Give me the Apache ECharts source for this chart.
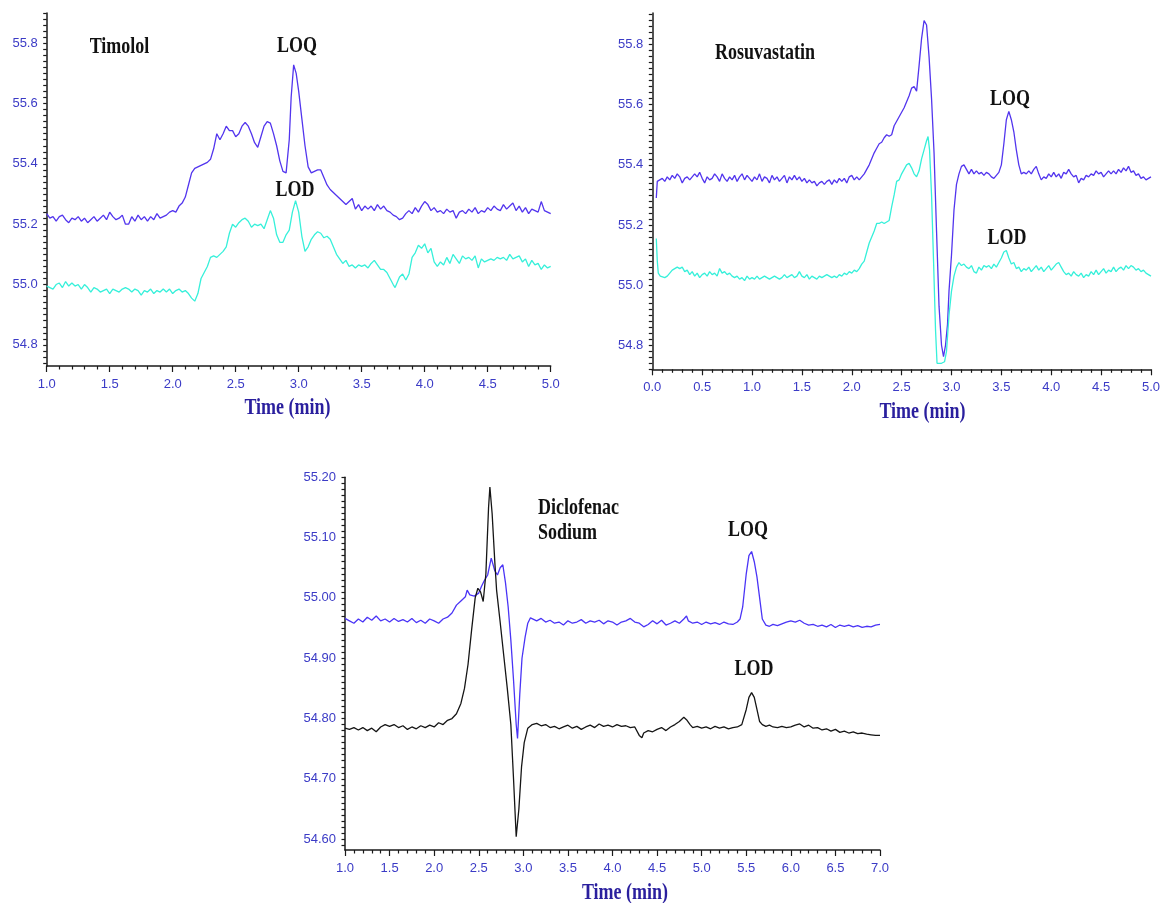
<!DOCTYPE html>
<html><head><meta charset="utf-8">
<script src="https://cdn.jsdelivr.net/npm/echarts@6/dist/echarts.min.js"></script>
<style>html,body{margin:0;padding:0;background:#fff}#chart{width:1163px;height:903px}</style>
</head><body><div id="chart"></div><script>
// ---- Timolol (min 1-5) ----
const timololLOQ = [[1.00,55.235],[1.025,55.22],[1.05,55.225],[1.075,55.21],[1.10,55.225],[1.125,55.23],[1.15,55.215],[1.175,55.205],[1.20,55.22],[1.225,55.215],[1.25,55.225],[1.275,55.21],[1.30,55.22],[1.325,55.205],[1.35,55.215],[1.375,55.225],[1.40,55.21],[1.425,55.22],[1.45,55.23],[1.475,55.215],[1.50,55.24],[1.525,55.225],[1.55,55.215],[1.575,55.22],[1.60,55.23],[1.625,55.20],[1.65,55.20],[1.675,55.225],[1.70,55.21],[1.725,55.23],[1.75,55.215],[1.775,55.225],[1.80,55.21],[1.825,55.225],[1.85,55.215],[1.875,55.235],[1.90,55.22],[1.925,55.225],[1.95,55.23],[1.975,55.24],[2.00,55.245],[2.025,55.24],[2.05,55.26],[2.075,55.27],[2.10,55.29],[2.125,55.33],[2.15,55.37],[2.175,55.385],[2.20,55.39],[2.225,55.395],[2.25,55.40],[2.275,55.405],[2.30,55.415],[2.325,55.45],[2.35,55.50],[2.375,55.48],[2.40,55.50],[2.425,55.525],[2.45,55.51],[2.475,55.51],[2.50,55.49],[2.525,55.50],[2.55,55.525],[2.575,55.537],[2.60,55.525],[2.625,55.50],[2.65,55.47],[2.675,55.455],[2.70,55.49],[2.725,55.525],[2.75,55.54],[2.775,55.535],[2.80,55.50],[2.825,55.46],[2.85,55.41],[2.875,55.375],[2.90,55.37],[2.925,55.48],[2.94,55.62],[2.96,55.728],[2.98,55.70],[3.00,55.64],[3.025,55.55],[3.05,55.46],[3.075,55.39],[3.10,55.37],[3.125,55.375],[3.15,55.38],[3.175,55.38],[3.20,55.355],[3.225,55.33],[3.25,55.315],[3.275,55.305],[3.30,55.295],[3.325,55.285],[3.35,55.275],[3.375,55.265],[3.40,55.275],[3.425,55.285],[3.45,55.25],[3.475,55.265],[3.50,55.245],[3.525,55.26],[3.55,55.25],[3.575,55.26],[3.60,55.245],[3.625,55.265],[3.65,55.25],[3.675,55.26],[3.70,55.245],[3.725,55.24],[3.75,55.23],[3.775,55.225],[3.80,55.215],[3.825,55.22],[3.85,55.235],[3.875,55.245],[3.90,55.235],[3.925,55.255],[3.95,55.24],[3.975,55.26],[4.00,55.275],[4.025,55.265],[4.05,55.245],[4.075,55.255],[4.10,55.24],[4.125,55.245],[4.15,55.235],[4.175,55.25],[4.20,55.24],[4.225,55.245],[4.25,55.22],[4.275,55.24],[4.30,55.245],[4.325,55.235],[4.35,55.25],[4.375,55.24],[4.40,55.255],[4.425,55.235],[4.45,55.245],[4.475,55.24],[4.50,55.255],[4.525,55.245],[4.55,55.26],[4.575,55.25],[4.60,55.245],[4.625,55.265],[4.65,55.25],[4.675,55.26],[4.70,55.27],[4.725,55.245],[4.75,55.26],[4.775,55.24],[4.80,55.255],[4.825,55.235],[4.85,55.25],[4.875,55.245],[4.90,55.24],[4.925,55.275],[4.95,55.245],[4.975,55.24],[5.00,55.235]];
const timololLOD = [[1.00,54.995],[1.025,54.99],[1.05,54.985],[1.075,55.00],[1.10,55.005],[1.125,54.99],[1.15,55.01],[1.175,54.995],[1.20,55.005],[1.225,54.995],[1.25,55.00],[1.275,54.985],[1.30,55.00],[1.325,54.99],[1.35,54.975],[1.375,54.99],[1.40,54.985],[1.425,54.975],[1.45,54.98],[1.475,54.985],[1.50,54.97],[1.525,54.985],[1.55,54.98],[1.575,54.975],[1.60,54.985],[1.625,54.99],[1.65,54.985],[1.675,54.975],[1.70,54.985],[1.725,54.98],[1.75,54.965],[1.775,54.98],[1.80,54.975],[1.825,54.985],[1.85,54.97],[1.875,54.98],[1.90,54.975],[1.925,54.985],[1.95,54.975],[1.975,54.985],[2.00,54.97],[2.025,54.98],[2.05,54.985],[2.075,54.975],[2.10,54.98],[2.125,54.97],[2.15,54.955],[2.175,54.945],[2.19,54.94],[2.20,54.97],[2.225,55.02],[2.25,55.04],[2.275,55.06],[2.30,55.09],[2.325,55.095],[2.35,55.09],[2.375,55.10],[2.40,55.11],[2.425,55.125],[2.45,55.17],[2.475,55.20],[2.50,55.19],[2.525,55.205],[2.55,55.215],[2.575,55.22],[2.60,55.21],[2.625,55.19],[2.65,55.20],[2.675,55.195],[2.70,55.20],[2.725,55.185],[2.75,55.215],[2.775,55.245],[2.80,55.22],[2.825,55.165],[2.85,55.14],[2.875,55.14],[2.90,55.165],[2.925,55.18],[2.95,55.24],[2.975,55.278],[3.00,55.24],[3.025,55.16],[3.05,55.11],[3.075,55.125],[3.10,55.15],[3.125,55.165],[3.15,55.175],[3.175,55.17],[3.20,55.155],[3.225,55.16],[3.25,55.15],[3.275,55.125],[3.30,55.10],[3.325,55.085],[3.35,55.07],[3.375,55.08],[3.40,55.06],[3.425,55.065],[3.45,55.055],[3.475,55.065],[3.50,55.06],[3.525,55.065],[3.55,55.055],[3.575,55.07],[3.60,55.08],[3.625,55.065],[3.65,55.05],[3.675,55.05],[3.70,55.04],[3.725,55.02],[3.75,55.00],[3.765,54.99],[3.775,55.00],[3.80,55.025],[3.825,55.035],[3.85,55.015],[3.875,55.035],[3.90,55.09],[3.925,55.105],[3.95,55.13],[3.975,55.12],[4.00,55.135],[4.025,55.105],[4.05,55.12],[4.075,55.075],[4.10,55.06],[4.125,55.075],[4.15,55.065],[4.175,55.09],[4.20,55.07],[4.225,55.10],[4.25,55.085],[4.275,55.07],[4.30,55.095],[4.325,55.085],[4.35,55.09],[4.375,55.08],[4.40,55.095],[4.425,55.055],[4.45,55.085],[4.475,55.075],[4.50,55.08],[4.525,55.085],[4.55,55.08],[4.575,55.09],[4.60,55.085],[4.625,55.09],[4.65,55.08],[4.675,55.10],[4.70,55.085],[4.725,55.09],[4.75,55.095],[4.775,55.075],[4.80,55.085],[4.825,55.06],[4.85,55.08],[4.875,55.065],[4.90,55.07],[4.925,55.05],[4.95,55.065],[4.975,55.055],[5.00,55.06]];
const timololYLabels = [54.8, 55.0, 55.2, 55.4, 55.6, 55.8];

// ---- Rosuvastatin (min 0-5) ----
const rosuLOQ = [[0.04,55.29],[0.05,55.345],[0.075,55.35],[0.10,55.355],[0.125,55.345],[0.15,55.36],[0.175,55.35],[0.20,55.365],[0.225,55.355],[0.25,55.37],[0.275,55.36],[0.30,55.34],[0.325,55.355],[0.35,55.36],[0.375,55.35],[0.40,55.36],[0.425,55.37],[0.45,55.36],[0.475,55.375],[0.50,55.355],[0.525,55.34],[0.55,55.36],[0.575,55.35],[0.60,55.355],[0.625,55.37],[0.65,55.36],[0.675,55.345],[0.70,55.37],[0.725,55.355],[0.75,55.345],[0.775,55.36],[0.80,55.35],[0.825,55.365],[0.85,55.345],[0.875,55.36],[0.90,55.37],[0.925,55.35],[0.95,55.365],[0.975,55.355],[1.00,55.345],[1.025,55.36],[1.05,55.35],[1.075,55.37],[1.10,55.345],[1.125,55.36],[1.15,55.355],[1.175,55.34],[1.20,55.365],[1.225,55.35],[1.25,55.36],[1.275,55.345],[1.30,55.355],[1.325,55.365],[1.35,55.34],[1.375,55.36],[1.40,55.35],[1.425,55.365],[1.45,55.35],[1.475,55.36],[1.50,55.345],[1.525,55.355],[1.55,55.34],[1.575,55.35],[1.60,55.34],[1.625,55.345],[1.65,55.33],[1.675,55.34],[1.70,55.345],[1.725,55.335],[1.75,55.345],[1.775,55.35],[1.80,55.335],[1.825,55.35],[1.85,55.34],[1.875,55.355],[1.90,55.345],[1.925,55.355],[1.95,55.34],[1.975,55.36],[2.00,55.365],[2.025,55.35],[2.05,55.36],[2.075,55.35],[2.10,55.36],[2.125,55.37],[2.15,55.385],[2.175,55.40],[2.20,55.42],[2.225,55.44],[2.25,55.455],[2.275,55.47],[2.30,55.475],[2.325,55.49],[2.35,55.50],[2.375,55.495],[2.40,55.50],[2.425,55.53],[2.45,55.545],[2.475,55.56],[2.50,55.575],[2.525,55.59],[2.55,55.61],[2.575,55.63],[2.60,55.655],[2.625,55.66],[2.65,55.645],[2.675,55.73],[2.70,55.82],[2.725,55.88],[2.75,55.865],[2.775,55.76],[2.80,55.62],[2.825,55.44],[2.85,55.18],[2.875,54.93],[2.90,54.80],[2.92,54.762],[2.94,54.80],[2.96,54.87],[2.975,54.98],[3.00,55.10],[3.025,55.25],[3.05,55.335],[3.075,55.37],[3.10,55.395],[3.125,55.40],[3.15,55.385],[3.175,55.37],[3.20,55.385],[3.225,55.37],[3.25,55.38],[3.275,55.37],[3.30,55.375],[3.325,55.365],[3.35,55.375],[3.375,55.37],[3.40,55.36],[3.425,55.355],[3.45,55.365],[3.475,55.375],[3.50,55.40],[3.525,55.47],[3.55,55.55],[3.575,55.578],[3.60,55.55],[3.625,55.51],[3.65,55.45],[3.675,55.40],[3.70,55.37],[3.725,55.375],[3.75,55.37],[3.775,55.38],[3.80,55.37],[3.825,55.385],[3.85,55.395],[3.875,55.37],[3.90,55.35],[3.925,55.36],[3.95,55.355],[3.975,55.37],[4.00,55.36],[4.025,55.375],[4.05,55.36],[4.075,55.37],[4.10,55.355],[4.125,55.375],[4.15,55.37],[4.175,55.385],[4.20,55.37],[4.225,55.36],[4.25,55.365],[4.275,55.34],[4.30,55.355],[4.325,55.35],[4.35,55.365],[4.375,55.36],[4.40,55.37],[4.425,55.365],[4.45,55.38],[4.475,55.37],[4.50,55.375],[4.525,55.36],[4.55,55.37],[4.575,55.38],[4.60,55.37],[4.625,55.38],[4.65,55.37],[4.675,55.385],[4.70,55.375],[4.725,55.39],[4.75,55.38],[4.775,55.395],[4.80,55.375],[4.825,55.38],[4.85,55.365],[4.875,55.37],[4.90,55.355],[4.925,55.36],[4.95,55.35],[4.975,55.355],[5.00,55.36]];
const rosuLOD = [[0.04,55.155],[0.05,55.08],[0.06,55.04],[0.08,55.03],[0.10,55.025],[0.125,55.025],[0.15,55.03],[0.175,55.04],[0.20,55.05],[0.225,55.055],[0.25,55.06],[0.275,55.055],[0.30,55.06],[0.325,55.045],[0.35,55.05],[0.375,55.035],[0.40,55.045],[0.425,55.03],[0.45,55.04],[0.475,55.025],[0.50,55.035],[0.525,55.04],[0.55,55.03],[0.575,55.045],[0.60,55.035],[0.625,55.04],[0.65,55.03],[0.675,55.055],[0.70,55.04],[0.725,55.045],[0.75,55.035],[0.775,55.04],[0.80,55.03],[0.825,55.025],[0.85,55.03],[0.875,55.02],[0.90,55.025],[0.925,55.015],[0.95,55.03],[0.975,55.02],[1.00,55.025],[1.025,55.02],[1.05,55.03],[1.075,55.02],[1.10,55.025],[1.125,55.03],[1.15,55.025],[1.175,55.02],[1.20,55.025],[1.225,55.03],[1.25,55.025],[1.275,55.02],[1.30,55.025],[1.325,55.035],[1.35,55.025],[1.375,55.03],[1.40,55.035],[1.425,55.025],[1.45,55.03],[1.475,55.045],[1.50,55.03],[1.525,55.025],[1.55,55.035],[1.575,55.02],[1.60,55.03],[1.625,55.025],[1.65,55.02],[1.675,55.03],[1.70,55.025],[1.725,55.03],[1.75,55.035],[1.775,55.03],[1.80,55.025],[1.825,55.03],[1.85,55.025],[1.875,55.035],[1.90,55.03],[1.925,55.04],[1.95,55.035],[1.975,55.045],[2.00,55.04],[2.025,55.05],[2.05,55.045],[2.075,55.055],[2.10,55.07],[2.125,55.08],[2.15,55.11],[2.175,55.14],[2.20,55.16],[2.225,55.18],[2.25,55.205],[2.275,55.205],[2.30,55.21],[2.325,55.205],[2.35,55.21],[2.375,55.215],[2.40,55.26],[2.425,55.30],[2.45,55.345],[2.475,55.35],[2.50,55.37],[2.525,55.385],[2.55,55.40],[2.575,55.405],[2.60,55.39],[2.625,55.37],[2.65,55.36],[2.675,55.38],[2.70,55.42],[2.725,55.45],[2.75,55.48],[2.765,55.494],[2.78,55.45],[2.80,55.30],[2.82,55.08],[2.84,54.85],[2.855,54.74],[2.87,54.74],[2.90,54.74],[2.93,54.745],[2.95,54.78],[2.975,54.90],[3.00,54.98],[3.025,55.03],[3.05,55.06],[3.075,55.075],[3.10,55.065],[3.125,55.07],[3.15,55.06],[3.175,55.055],[3.20,55.065],[3.225,55.045],[3.25,55.04],[3.275,55.06],[3.30,55.05],[3.325,55.065],[3.35,55.06],[3.375,55.065],[3.40,55.055],[3.425,55.07],[3.45,55.06],[3.475,55.075],[3.50,55.09],[3.525,55.11],[3.55,55.115],[3.575,55.09],[3.60,55.07],[3.625,55.075],[3.65,55.055],[3.675,55.06],[3.70,55.045],[3.725,55.055],[3.75,55.05],[3.775,55.06],[3.80,55.045],[3.825,55.055],[3.85,55.065],[3.875,55.05],[3.90,55.06],[3.925,55.045],[3.95,55.055],[3.975,55.065],[4.00,55.05],[4.025,55.06],[4.05,55.07],[4.075,55.075],[4.10,55.06],[4.125,55.045],[4.15,55.035],[4.175,55.04],[4.20,55.03],[4.225,55.045],[4.25,55.035],[4.275,55.03],[4.30,55.04],[4.325,55.025],[4.35,55.035],[4.375,55.03],[4.40,55.045],[4.425,55.035],[4.45,55.05],[4.475,55.035],[4.50,55.045],[4.525,55.055],[4.55,55.04],[4.575,55.05],[4.60,55.045],[4.625,55.06],[4.65,55.045],[4.675,55.055],[4.70,55.06],[4.725,55.05],[4.75,55.065],[4.775,55.055],[4.80,55.065],[4.825,55.06],[4.85,55.05],[4.875,55.055],[4.90,55.045],[4.925,55.05],[4.95,55.04],[4.975,55.035],[5.00,55.03]];
const rosuYLabels = [54.8, 55.0, 55.2, 55.4, 55.6, 55.8];

// ---- Diclofenac Sodium (min 1-7) ----
const dicloLOQ = [[1.00,54.966],[1.05,54.962],[1.10,54.958],[1.15,54.965],[1.20,54.96],[1.25,54.968],[1.30,54.963],[1.35,54.97],[1.40,54.962],[1.45,54.965],[1.50,54.96],[1.55,54.966],[1.60,54.961],[1.65,54.964],[1.70,54.96],[1.75,54.966],[1.80,54.959],[1.85,54.963],[1.90,54.958],[1.95,54.965],[2.00,54.962],[2.05,54.958],[2.10,54.965],[2.15,54.968],[2.20,54.975],[2.25,54.988],[2.30,54.995],[2.35,55.002],[2.37,55.013],[2.40,55.005],[2.45,55.003],[2.50,55.008],[2.53,55.019],[2.56,55.028],[2.60,55.038],[2.64,55.066],[2.68,55.045],[2.71,55.038],[2.74,55.05],[2.77,55.055],[2.80,55.025],[2.83,54.985],[2.86,54.93],[2.89,54.864],[2.92,54.79],[2.935,54.767],[2.96,54.84],[2.985,54.90],[3.02,54.935],[3.05,54.958],[3.08,54.967],[3.10,54.968],[3.15,54.962],[3.20,54.966],[3.25,54.96],[3.30,54.963],[3.35,54.958],[3.40,54.96],[3.45,54.955],[3.50,54.962],[3.55,54.958],[3.60,54.96],[3.65,54.964],[3.70,54.958],[3.75,54.962],[3.80,54.96],[3.85,54.963],[3.90,54.957],[3.95,54.962],[4.00,54.96],[4.05,54.955],[4.10,54.96],[4.15,54.962],[4.20,54.966],[4.25,54.96],[4.30,54.958],[4.35,54.952],[4.40,54.956],[4.45,54.962],[4.50,54.957],[4.55,54.963],[4.60,54.955],[4.65,54.958],[4.70,54.962],[4.75,54.958],[4.80,54.965],[4.83,54.97],[4.85,54.962],[4.90,54.958],[4.95,54.96],[5.00,54.956],[5.05,54.96],[5.10,54.957],[5.15,54.959],[5.20,54.956],[5.25,54.96],[5.30,54.957],[5.35,54.956],[5.40,54.96],[5.43,54.965],[5.46,54.985],[5.50,55.04],[5.53,55.07],[5.56,55.077],[5.59,55.06],[5.62,55.035],[5.65,55.00],[5.68,54.965],[5.72,54.955],[5.76,54.953],[5.80,54.956],[5.85,54.954],[5.90,54.957],[5.95,54.96],[6.00,54.962],[6.05,54.96],[6.10,54.963],[6.15,54.958],[6.20,54.955],[6.25,54.956],[6.30,54.953],[6.35,54.955],[6.40,54.952],[6.45,54.956],[6.50,54.951],[6.55,54.955],[6.60,54.953],[6.65,54.955],[6.70,54.952],[6.75,54.954],[6.80,54.951],[6.85,54.953],[6.90,54.952],[6.95,54.955],[7.00,54.956]];
const dicloLOD = [[1.00,54.784],[1.05,54.782],[1.10,54.785],[1.15,54.781],[1.20,54.785],[1.25,54.78],[1.30,54.784],[1.35,54.778],[1.40,54.786],[1.45,54.79],[1.50,54.787],[1.55,54.79],[1.60,54.785],[1.65,54.788],[1.70,54.782],[1.75,54.786],[1.80,54.783],[1.85,54.788],[1.90,54.785],[1.95,54.789],[2.00,54.786],[2.05,54.793],[2.10,54.79],[2.15,54.797],[2.20,54.80],[2.25,54.808],[2.30,54.825],[2.34,54.85],[2.38,54.89],[2.42,54.947],[2.46,55.00],[2.49,55.016],[2.52,55.01],[2.55,54.994],[2.58,55.04],[2.61,55.15],[2.625,55.184],[2.65,55.14],[2.68,55.06],[2.70,55.013],[2.74,54.96],[2.78,54.905],[2.82,54.85],[2.86,54.79],[2.89,54.70],[2.92,54.604],[2.95,54.65],[2.98,54.72],[3.01,54.76],[3.05,54.784],[3.10,54.79],[3.15,54.792],[3.20,54.788],[3.25,54.79],[3.30,54.785],[3.35,54.787],[3.40,54.783],[3.45,54.786],[3.50,54.789],[3.55,54.784],[3.60,54.787],[3.65,54.782],[3.70,54.786],[3.75,54.789],[3.80,54.785],[3.85,54.791],[3.90,54.787],[3.95,54.789],[4.00,54.786],[4.05,54.79],[4.10,54.787],[4.15,54.788],[4.20,54.785],[4.25,54.786],[4.30,54.772],[4.33,54.768],[4.35,54.776],[4.40,54.78],[4.45,54.778],[4.50,54.782],[4.55,54.785],[4.60,54.78],[4.65,54.786],[4.70,54.79],[4.75,54.795],[4.80,54.802],[4.83,54.798],[4.87,54.79],[4.90,54.785],[4.95,54.787],[5.00,54.784],[5.05,54.786],[5.10,54.783],[5.15,54.787],[5.20,54.784],[5.25,54.786],[5.30,54.783],[5.35,54.785],[5.40,54.786],[5.45,54.79],[5.50,54.815],[5.53,54.835],[5.56,54.843],[5.59,54.835],[5.62,54.815],[5.65,54.795],[5.68,54.79],[5.72,54.787],[5.76,54.789],[5.80,54.786],[5.85,54.785],[5.90,54.787],[5.95,54.785],[6.00,54.786],[6.05,54.789],[6.10,54.791],[6.15,54.786],[6.20,54.789],[6.25,54.784],[6.30,54.785],[6.35,54.781],[6.40,54.783],[6.45,54.779],[6.50,54.782],[6.55,54.777],[6.60,54.779],[6.65,54.776],[6.70,54.778],[6.75,54.775],[6.80,54.776],[6.85,54.774],[6.90,54.773],[6.95,54.772],[7.00,54.772]];
const dicloYLabels = [54.60, 54.70, 54.80, 54.90, 55.00, 55.10, 55.20];

function stepValues(a, b, step) {
  const out = [];
  const n = Math.round((b - a) / step);
  for (let i = 0; i <= n; i++) out.push(+(a + i * step).toFixed(3));
  return out;
}

const LABEL_COLOR = '#3b3bc6';
const NAME_COLOR = '#2a1f9e';
const AXIS_COLOR = '#1a1a1a';
const BLUE = '#5235ee';
const CYAN = '#36f0da';
const labelFont = { color: LABEL_COLOR, fontFamily: "'Liberation Sans', Arial, sans-serif", fontSize: 13 };

function xAxisFor(grid, min, max) {
  return {
    type: 'value', gridIndex: grid, min, max, interval: 0.5,
    axisLine: { show: true, onZero: false, lineStyle: { color: AXIS_COLOR, width: 1.5 } },
    axisTick: { show: true, length: 6, lineStyle: { color: AXIS_COLOR, width: 1.2 } },
    minorTick: { show: true, splitNumber: 5, length: 3.5, lineStyle: { color: AXIS_COLOR, width: 1.2 } },
    splitLine: { show: false }, minorSplitLine: { show: false },
    axisLabel: Object.assign({ margin: 12, formatter: v => v.toFixed(1) }, labelFont)
  };
}
function yAxisFor(grid, min, max, labels, tickStep, tickStart, digits) {
  return {
    type: 'value', gridIndex: grid, min, max,
    axisLine: { show: true, onZero: false, lineStyle: { color: AXIS_COLOR, width: 1.5 } },
    axisTick: { show: true, length: 3.5, customValues: stepValues(tickStart, max, tickStep), lineStyle: { color: AXIS_COLOR, width: 1.2 } },
    splitLine: { show: false },
    axisLabel: Object.assign({ margin: 9, customValues: labels, formatter: v => (+v).toFixed(digits) }, labelFont)
  };
}
function line(data, color, xi, yi) {
  return { type: 'line', data, xAxisIndex: xi, yAxisIndex: yi, showSymbol: false, symbol: 'none',
    lineStyle: { color, width: 1.3 }, itemStyle: { color }, animation: false, silent: true };
}

const serifFont = "bold 18px 'Liberation Serif', 'Times New Roman', serif";
function txt(text, x, y, fill, align, font) {
  return { type: 'text', x, y, scaleY: 1.3, silent: true,
    style: { text, font: font || serifFont, fill, align: align || 'center', verticalAlign: 'middle',
             textAlign: align || 'center', textVerticalAlign: 'middle' } };
}

const chart = echarts.init(document.getElementById('chart'), null, { renderer: 'canvas' });
chart.setOption({
  backgroundColor: '#ffffff',
  animation: false,
  grid: [
    { left: 46.7, top: 13, width: 504, height: 353 },
    { left: 652.3, top: 13, width: 503, height: 356.3 },
    { left: 345, top: 477.3, width: 535, height: 372.7 }
  ],
  xAxis: [ xAxisFor(0, 1, 5), xAxisFor(1, 0, 5), xAxisFor(2, 1, 7) ],
  yAxis: [
    yAxisFor(0, 54.73, 55.9, timololYLabels, 0.02, 54.74, 1),
    yAxisFor(1, 54.72, 55.905, rosuYLabels, 0.02, 54.72, 1),
    yAxisFor(2, 54.582, 55.2, dicloYLabels, 0.01, 54.59, 2)
  ],
  series: [
    line(timololLOQ, BLUE, 0, 0),
    line(timololLOD, CYAN, 0, 0),
    line(rosuLOQ, BLUE, 1, 1),
    line(rosuLOD, CYAN, 1, 1),
    line(dicloLOQ, '#4a34f6', 2, 2),
    line(dicloLOD, '#151515', 2, 2)
  ],
  graphic: [
    txt('Timolol', 119.5, 47, '#111'),
    txt('LOQ', 297, 45.5, '#111'),
    txt('LOD', 295, 189.5, '#111'),
    txt('Rosuvastatin', 765, 52.5, '#111'),
    txt('LOQ', 1010, 99, '#111'),
    txt('LOD', 1007, 237.5, '#111'),
    txt('Diclofenac', 538, 508, '#111', 'left'),
    txt('Sodium', 538, 533, '#111', 'left'),
    txt('LOQ', 748, 530, '#111'),
    txt('LOD', 754, 669, '#111'),
    txt('Time (min)', 287.5, 408, NAME_COLOR),
    txt('Time (min)', 922.5, 411.5, NAME_COLOR),
    txt('Time (min)', 625, 892.5, NAME_COLOR)
  ]
});
</script></body></html>
